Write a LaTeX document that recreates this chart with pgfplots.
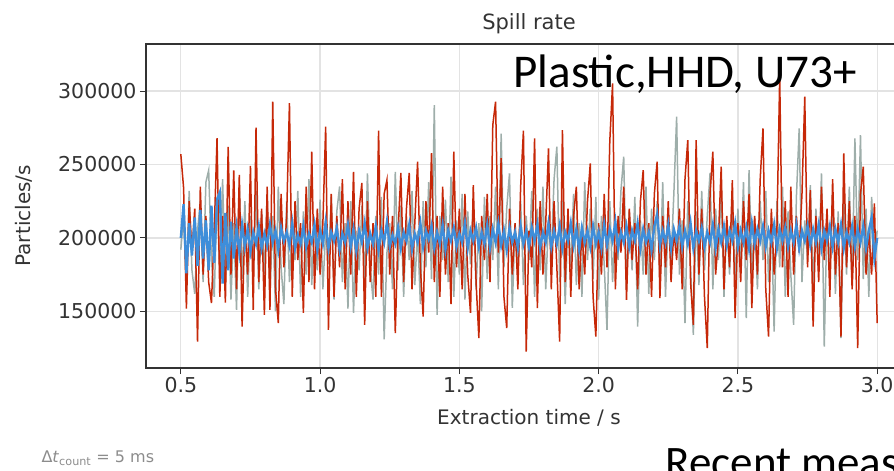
\documentclass[border=0pt]{standalone}
\usepackage{fontspec}
\usepackage{pgfplots}
\usepackage{pgfplotstable}
\pgfplotsset{compat=1.18}
\newfontfamily\mpl{DejaVu Sans}
\newfontfamily\calib{Carlito}
\definecolor{spillred}{RGB}{198,40,8}
\definecolor{spillgray}{RGB}{158,174,170}
\definecolor{spillblue}{RGB}{62,142,218}

% t / s, rates in particles/s: red, gray, blue
\pgfplotstableread{
t red gray blue
0.50 257000 192000 200000
0.51 234000 215000 223000
0.52 152000 165000 176000
0.53 225000 232000 210000
0.54 190000 178000 188000
0.55 220000 162000 214000
0.56 129500 205000 181000
0.57 235000 225000 219000
0.58 175000 170000 186000
0.59 215000 238000 212000
0.60 170000 246000 178000
0.61 155700 185000 222000
0.62 205000 160000 183000
0.63 268000 228000 226000
0.64 160000 175000 231000
0.65 215000 240000 169000
0.66 156000 168000 217000
0.67 262000 222000 178000
0.68 175000 158000 211000
0.69 246000 210000 186000
0.70 165000 151000 207000
0.71 243000 236000 190000
0.72 139700 172000 209000
0.73 210000 225000 194000
0.74 175000 160000 206000
0.75 249000 215000 191000
0.76 151000 178000 204000
0.77 275000 232000 196000
0.78 170000 165000 208000
0.79 220000 218000 193000
0.80 147600 175000 203000
0.81 235000 228000 195000
0.82 151000 162000 209000
0.83 292700 215000 197000
0.84 165000 150000 205000
0.85 142000 235000 192000
0.86 230000 180000 207000
0.87 180000 155000 198000
0.88 215000 225000 204000
0.89 291800 170000 195000
0.90 160000 210000 210000
0.91 225000 185000 193000
0.92 185000 232000 202000
0.93 210000 160000 196000
0.94 149000 218000 208000
0.95 235000 175000 194000
0.96 170000 240000 203000
0.97 258700 168000 197000
0.98 165000 212000 209000
0.99 220000 178000 192000
1.00 175000 226000 205000
1.01 210000 165000 196000
1.02 275700 205000 211000
1.03 137400 182000 193000
1.04 230000 228000 204000
1.05 160000 158000 198000
1.06 215000 218000 207000
1.07 180000 235000 192000
1.08 240000 170000 203000
1.09 165000 210000 197000
1.10 225000 152000 209000
1.11 175000 225000 194000
1.12 245000 149000 206000
1.13 160000 205000 191000
1.14 220000 178000 205000
1.15 237400 222000 197000
1.16 140800 168000 210000
1.17 225000 244000 193000
1.18 170000 180000 203000
1.19 210000 158000 196000
1.20 160000 215000 208000
1.21 273000 175000 192000
1.22 160000 228000 205000
1.23 230000 131000 197000
1.24 239400 190000 211000
1.25 175000 210000 194000
1.26 215000 165000 202000
1.27 135200 245000 196000
1.28 205000 178000 207000
1.29 244200 222000 193000
1.30 170000 160000 204000
1.31 220000 215000 198000
1.32 244200 185000 209000
1.33 165000 232000 192000
1.34 210000 168000 203000
1.35 251900 205000 197000
1.36 180000 155000 210000
1.37 146500 225000 194000
1.38 225000 180000 205000
1.39 190000 238000 199000
1.40 257800 172000 208000
1.41 170000 290400 193000
1.42 215000 147600 204000
1.43 160000 215000 196000
1.44 235000 185000 209000
1.45 175000 226000 192000
1.46 210000 170000 205000
1.47 155000 241700 198000
1.48 258700 160000 207000
1.49 180000 212000 194000
1.50 220000 175000 203000
1.51 165000 230000 197000
1.52 230000 158000 210000
1.53 175000 218000 193000
1.54 149000 182000 205000
1.55 236000 225000 198000
1.56 170000 165000 207000
1.57 131800 210000 194000
1.58 215000 150000 204000
1.59 185000 228000 196000
1.60 230000 172000 209000
1.61 170000 215000 193000
1.62 276800 185000 206000
1.63 292700 235000 197000
1.64 190000 165000 210000
1.65 254400 271000 195000
1.66 160000 180000 205000
1.67 138600 220000 192000
1.68 220000 244000 207000
1.69 175000 152400 197000
1.70 210000 210000 204000
1.71 165000 175000 193000
1.72 235000 225000 208000
1.73 273000 168000 196000
1.74 122700 215000 205000
1.75 205000 185000 194000
1.76 180000 232000 207000
1.77 267800 160000 198000
1.78 152200 220000 209000
1.79 225000 178000 193000
1.80 175000 235000 204000
1.81 210000 165000 197000
1.82 261000 212000 210000
1.83 165000 188000 194000
1.84 225000 240000 205000
1.85 180000 262100 196000
1.86 129500 170000 208000
1.87 273400 225000 193000
1.88 170000 155000 204000
1.89 220000 215000 198000
1.90 160000 180000 210000
1.91 215000 230000 195000
1.92 234900 168000 206000
1.93 165000 210000 192000
1.94 205000 160000 207000
1.95 175000 238000 197000
1.96 225000 185000 205000
1.97 250800 220000 194000
1.98 160000 172000 208000
1.99 132900 228000 196000
2.00 210000 158000 204000
2.01 175000 215000 193000
2.02 230000 182000 209000
2.03 180000 137400 195000
2.04 265500 225000 206000
2.05 305200 170000 198000
2.06 165000 210000 211000
2.07 215000 185000 193000
2.08 190000 232000 204000
2.09 235000 255300 197000
2.10 157800 165000 208000
2.11 220000 218000 194000
2.12 185000 178000 205000
2.13 210000 228000 198000
2.14 165000 139700 210000
2.15 225000 212000 193000
2.16 246200 175000 206000
2.17 175000 235000 197000
2.18 210000 162000 204000
2.19 160000 220000 192000
2.20 230000 185000 208000
2.21 251900 225000 216000
2.22 159000 170000 195000
2.23 215000 238000 205000
2.24 180000 160000 197000
2.25 225000 215000 209000
2.26 170000 185000 193000
2.27 205000 230000 206000
2.28 185000 282500 198000
2.29 220000 175000 208000
2.30 165000 212000 194000
2.31 240000 142000 205000
2.32 266600 225000 196000
2.33 170000 180000 210000
2.34 140800 134000 193000
2.35 266600 218000 205000
2.36 175000 168000 198000
2.37 220000 232000 207000
2.38 160000 178000 194000
2.39 125000 215000 204000
2.40 230000 244200 197000
2.41 258700 165000 209000
2.42 175000 220000 193000
2.43 200000 185000 206000
2.44 248500 235000 197000
2.45 165000 160000 208000
2.46 215000 212000 195000
2.47 180000 175000 205000
2.48 239400 228000 198000
2.49 145400 168000 210000
2.50 210000 220000 194000
2.51 170000 180000 205000
2.52 225000 238000 197000
2.53 185000 145400 207000
2.54 230000 246200 193000
2.55 152200 175000 210000
2.56 215000 215000 196000
2.57 175000 165000 206000
2.58 240000 225000 198000
2.59 274600 185000 208000
2.60 165000 232000 194000
2.61 132900 170000 205000
2.62 220000 215000 197000
2.63 175000 136300 209000
2.64 205000 225000 193000
2.65 309700 180000 206000
2.66 180000 235000 198000
2.67 225000 160000 207000
2.68 160000 218000 194000
2.69 235000 175000 205000
2.70 175000 140800 197000
2.71 215000 228000 209000
2.72 190000 274600 193000
2.73 230000 170000 205000
2.74 296100 212000 198000
2.75 180000 185000 208000
2.76 232600 236000 195000
2.77 139700 165000 206000
2.78 215000 220000 197000
2.79 170000 178000 209000
2.80 235000 244000 193000
2.81 185000 126100 205000
2.82 220000 215000 198000
2.83 160000 180000 208000
2.84 240000 230000 194000
2.85 175000 162000 206000
2.86 210000 218000 197000
2.87 132900 131800 209000
2.88 257600 225000 193000
2.89 180000 175000 204000
2.90 225000 235000 197000
2.91 165000 168000 208000
2.92 215000 267800 194000
2.93 125000 185000 206000
2.94 230000 270000 197000
2.95 248500 172000 208000
2.96 175000 220000 193000
2.97 205000 160000 205000
2.98 175000 228000 214000
2.99 223600 190000 186000
3.00 142000 205000 200000
}\spill

\begin{document}
\begin{tikzpicture}[x=1pt,y=1pt]
\begin{axis}[
    at={(146pt,103pt)}, anchor=south west,
    scale only axis,
    width=766pt, height=324pt,
    xmin=0.375, xmax=3.125,
    ymin=111500, ymax=332000,
    xtick={0.5,1.0,1.5,2.0,2.5,3.0},
    ytick={150000,200000,250000,300000},
    scaled y ticks=false,
    /pgf/number format/assume math mode=true,
    xticklabel style={/pgf/number format/.cd,fixed,fixed zerofill,precision=1},
    yticklabel style={/pgf/number format/.cd,fixed,1000 sep={}},
    tick label style={font=\mpl\fontsize{20.5}{20.5}\selectfont, text=black!80},
    title={Spill rate},
    xlabel={Extraction time / s},
    ylabel={Particles/s},
    title style={at={(axis description cs:0.5,1.043)}, anchor=center,
        font=\mpl\fontsize{21}{21}\selectfont, text=black!80},
    xlabel style={at={(axis description cs:0.5,-0.154)}, anchor=center,
        font=\mpl\fontsize{20}{20}\selectfont, text=black!80},
    ylabel style={at={(axis description cs:-0.159,0.47)}, anchor=center, rotate=0,
        font=\mpl\fontsize{20}{20}\selectfont, text=black!80},
    tick pos=left,
    tick align=outside,
    major tick length=6pt,
    every tick/.style={black!80, line width=1pt},
    grid=major,
    grid style={draw=black!11, line width=1.2pt},
    axis line style={draw=black!80, line width=1.3pt},
]
\addplot[spillgray, line width=1.5pt] table[x=t, y=gray] {\spill};
\addplot[spillred, line width=1.5pt] table[x=t, y=red] {\spill};
\addplot[spillblue, line width=2.4pt] table[x=t, y=blue] {\spill};
\end{axis}
\node[anchor=base west, font=\calib\fontsize{47}{47}\selectfont] at (510,383) {Plastic,HHD, U73+};
\node[anchor=base west, font=\calib\fontsize{45}{45}\selectfont] at (662,-6) {Recent measurements};
\node[anchor=base west, font=\mpl\fontsize{16}{16}\selectfont, text=black!45] at (38,8) {Δ\textit{t}\textsubscript{count} = 5 ms};
\pgfresetboundingbox
\path (0,0) rectangle (894,471);
\end{tikzpicture}
\end{document}
